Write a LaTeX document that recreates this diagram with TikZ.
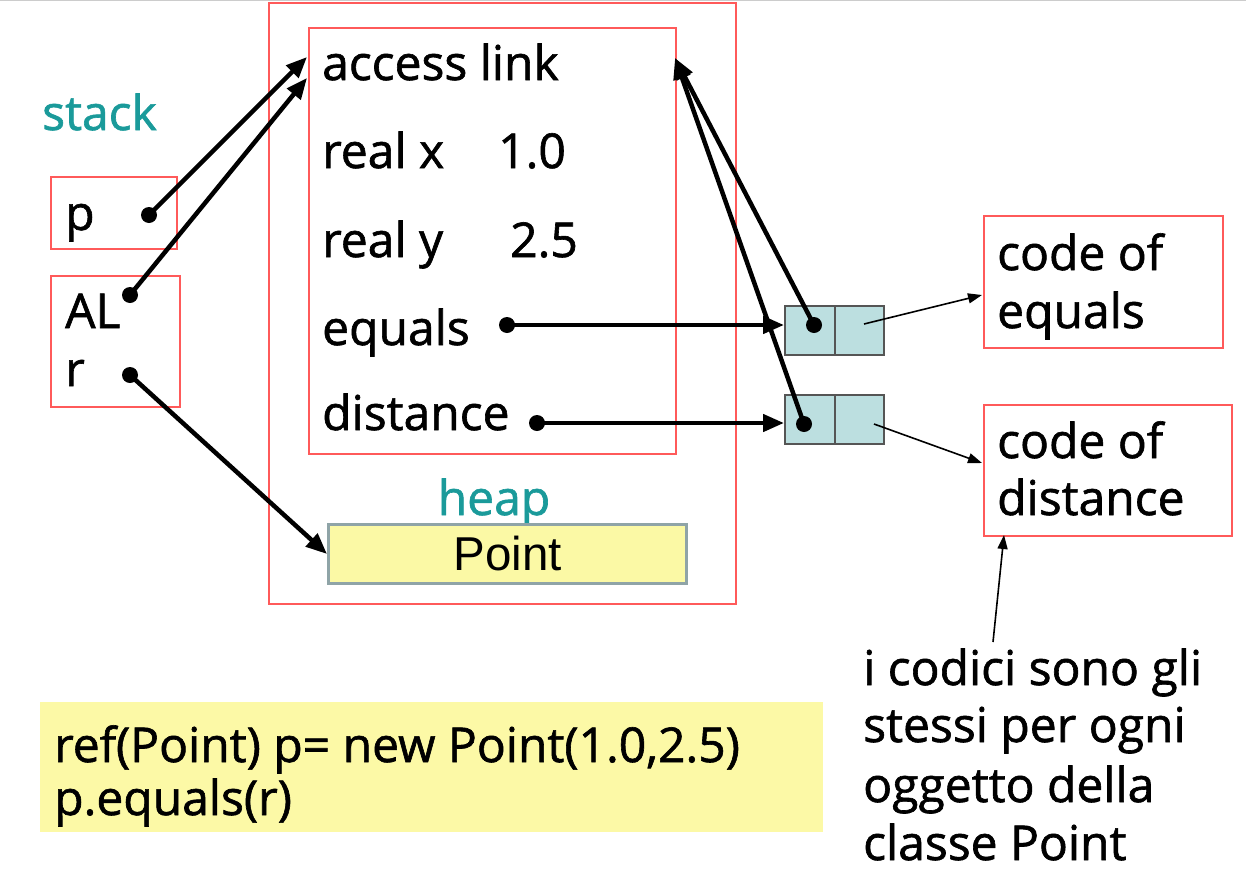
\documentclass[tikz,border=0pt]{standalone}
\usepackage{fontspec}
\setmainfont[FakeBold=1.3]{Open Sans}
\newfontfamily\arialfont{Liberation Sans}
\usetikzlibrary{arrows.meta}

\definecolor{framered}{HTML}{FF5A5A}
\definecolor{labelteal}{HTML}{1A9A9A}
\definecolor{cellblue}{HTML}{BCDFE0}
\definecolor{celledge}{HTML}{555555}
\definecolor{pointfill}{HTML}{FBF9A5}
\definecolor{pointedge}{HTML}{8FA4A7}
\definecolor{codefill}{HTML}{FCF9A6}

\tikzset{
  frame/.style={draw=framered, line width=1.7pt, inner sep=0pt, anchor=north west},
  txt/.style={inner sep=0pt, anchor=base west, font=\fontsize{48}{58}\selectfont},
  tag/.style={txt, text=labelteal},
  dot/.style={circle, fill=black, inner sep=0pt, minimum size=16pt},
  cell/.style={draw=celledge, fill=cellblue, line width=1.7pt, inner sep=0pt,
               minimum width=50pt, minimum height=49pt, anchor=north west},
  ptr/.style={line width=4.5pt, -{Triangle[length=21pt,width=17pt]}},
  thinptr/.style={line width=1.6pt, -{Triangle[length=14pt,width=10pt]}},
}

\begin{document}
\begin{tikzpicture}[x=1pt, y=-1pt]
\useasboundingbox (0,0) rectangle (1246,870);
\draw[gray!40, line width=1pt] (0,0.5) -- (1246,0.5);

% heap area and the object record
\node[frame, minimum width=467pt, minimum height=601pt] (heap) at (268,2) {};
\node[frame, minimum width=367pt, minimum height=426pt] (obj) at (308,27) {};
\node[tag, anchor=base] (heaplbl) at (494,515) {heap};
\node[draw=pointedge, fill=pointfill, line width=3pt, inner sep=0pt,
      minimum width=358pt, minimum height=59pt, anchor=north west,
      font=\arialfont\fontsize{47.5}{56}\selectfont] (pt) at (327,523) {Point};

% fields of the object
\node[txt] (acc) at (322,80) {access link};
\node[txt] (rx) at (322,168) {real x};
\node[txt] (xval) at (498,168) {1.0};
\node[txt] (ry) at (322,257) {real y};
\node[txt] (yval) at (510,257) {2.5};
\node[txt] (eq) at (322,345) {equals};
\node[txt] (dist) at (322,430) {distance};
\node[dot] (eqdot) at (507,325) {};
\node[dot] (disdot) at (537,423) {};

% stack frame
\node[tag] (stacklbl) at (42,130) {stack};
\node[frame, minimum width=126pt, minimum height=72pt] (pbox) at (50,176) {};
\node[txt] (ptxt) at (65,230) {p};
\node[dot] (pdot) at (149,215) {};
\node[frame, minimum width=129pt, minimum height=131pt] (arbox) at (50,275) {};
\node[txt] (altxt) at (65,328) {AL};
\node[txt] (rtxt) at (65,386) {r};
\node[dot] (aldot) at (130,295) {};
\node[dot] (rdot) at (130,375) {};

% method table cells
\node[cell] (ca1) at (784,305) {};
\node[cell, minimum width=49pt] (cb1) at (834,305) {};
\node[cell] (ca2) at (784,394) {};
\node[cell, minimum width=49pt] (cb2) at (834,394) {};
\node[dot] (cdot1) at (814,325) {};
\node[dot] (cdot2) at (804,424) {};

% code boxes
\node[frame, minimum width=239pt, minimum height=132pt] (codeeq) at (983,215) {};
\node[txt] (ce1) at (997,270) {code of};
\node[txt] (ce2) at (997,328) {equals};
\node[frame, minimum width=248pt, minimum height=131pt] (codedist) at (983,404) {};
\node[txt] (cd1) at (997,458) {code of};
\node[txt] (cd2) at (997,515) {distance};

% note
\node[txt] (n1) at (863,685) {i codici sono gli};
\node[txt] (n2) at (863,742) {stessi per ogni};
\node[txt] (n3) at (863,802) {oggetto della};
\node[txt] (n4) at (863,860) {classe Point};

% source code
\node[fill=codefill, inner sep=0pt, minimum width=783pt, minimum height=130pt,
      anchor=north west] (src) at (40,702) {};
\node[txt] (s1) at (54,762) {ref(Point) p= new Point(1.0,2.5)};
\node[txt] (s2) at (54,815) {p.equals(r)};

% connector end points
\coordinate (accin1) at (307,57);
\coordinate (accin2) at (307,78);
\coordinate (accout) at (675,58);
\coordinate (srceq) at (864,324);
\coordinate (srcdist) at (874,424);
\coordinate (eqin) at (982,295);
\coordinate (distin) at (982,463);
\coordinate (notetop) at (993,642);
\coordinate (distbot) at (1004,535);

% pointers
\draw[ptr] (pdot.center) -- (accin1);
\draw[ptr] (aldot.center) -- (accin2);
\draw[ptr] (rdot.center) -- (pt.west);
\draw[ptr] (eqdot.center) -- (eqdot.center -| ca1.west);
\draw[ptr] (disdot.center) -- (disdot.center -| ca2.west);
\draw[ptr] (cdot1.center) -- (accout);
\draw[ptr] (cdot2.center) -- (accout);
\draw[thinptr] (srceq) -- (eqin);
\draw[thinptr] (srcdist) -- (distin);
\draw[thinptr] (notetop) -- (distbot);
\end{tikzpicture}
\end{document}
